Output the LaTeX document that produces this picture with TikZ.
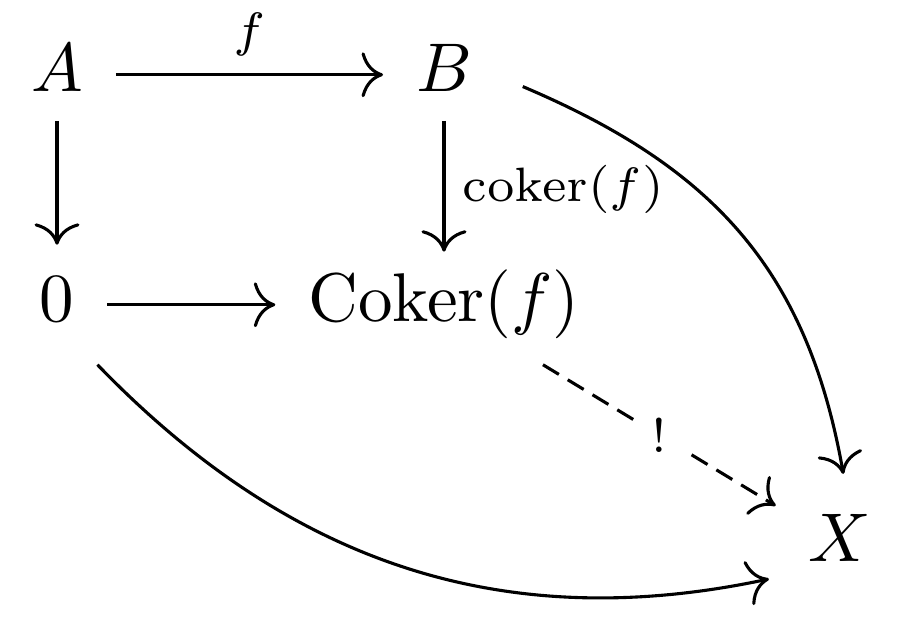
\documentclass[tikz,border=0pt]{standalone}
\usetikzlibrary{arrows.meta}
\begin{document}
\begin{tikzpicture}[x=0.145pt,y=-0.145pt,
  obj/.style={anchor=base, inner xsep=4.6pt, inner ysep=4pt, text height=7pt, text depth=2pt},
  arr/.style={-{Computer Modern Rightarrow[scale=1.2]}, line width=0.45pt},
  lab/.style={inner sep=2.5pt, font=\scriptsize}]
\useasboundingbox (0,0) rectangle (903,639);
\node[obj] (A) at (57,92) {$A$};
\node[obj] (B) at (444,92) {$B$};
\node[obj] (Z) at (57,322) {$0$};
\node[obj] (C) at (444,322) {$\mathrm{Coker}(f)$};
\node[obj] (X) at (840,562) {$X$};
\draw[arr] (A) -- node[above, lab] {$f$} (B);
\draw[arr, shorten <=-2pt] (A) -- (Z);
\draw[arr, shorten <=-2pt, shorten >=-1pt] (B) -- node[right, lab] {$\mathrm{coker}(f)$} (C);
\draw[arr] (Z) -- (C);
\draw[arr, dash pattern=on 2.7pt off 1.5pt] (C) -- node[lab, fill=white] {$!$} (X);
\draw[arr, shorten <=2.8pt, shorten >=1.6pt] (B.-4) to[out=-23, in=100, looseness=1.07] (X.85);
\draw[arr, shorten >=1pt] (Z.-56) to[out=-46, in=192] (X.207);
\end{tikzpicture}
\end{document}
